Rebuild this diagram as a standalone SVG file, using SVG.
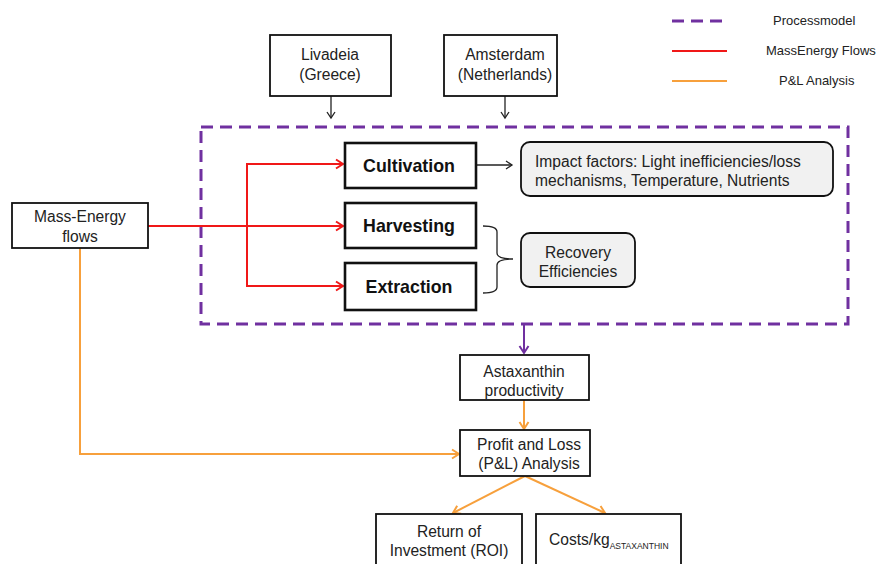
<svg xmlns="http://www.w3.org/2000/svg" width="877" height="564" viewBox="0 0 877 564">
<style>
text{font-family:"Liberation Sans",Arial,sans-serif;fill:#222;}
.t{font-size:15.6px;text-anchor:middle;}
.l{font-size:15.6px;}
.b{font-size:17.8px;font-weight:bold;text-anchor:middle;fill:#111;}
.lg{font-size:13px;}
.box{fill:#fff;stroke:#111;stroke-width:1.8;}
.bbox{fill:#fff;stroke:#111;stroke-width:2.6;}
.rbox{fill:#f1f1f1;stroke:#111;stroke-width:1.8;}
.blk{stroke:#222;stroke-width:1.3;fill:none;}
.red{stroke:#f01818;stroke-width:2;fill:none;}
.org{stroke:#f7a03c;stroke-width:2;fill:none;}
.pur{stroke:#7030a0;stroke-width:2;fill:none;}
.dash{stroke:#7030a0;stroke-width:3;fill:none;stroke-dasharray:12 7;}
</style>
<defs>
<marker id="ak" markerWidth="10" markerHeight="10" refX="8" refY="5" orient="auto" markerUnits="userSpaceOnUse"><path d="M2,1 L8,5 L2,9" fill="none" stroke="#222" stroke-width="1.3"/></marker>
<marker id="ar" markerWidth="12" markerHeight="12" refX="10" refY="6" orient="auto" markerUnits="userSpaceOnUse"><path d="M3,1.5 L10,6 L3,10.5" fill="none" stroke="#f01818" stroke-width="2"/></marker>
<marker id="ao" markerWidth="12" markerHeight="12" refX="10" refY="6" orient="auto" markerUnits="userSpaceOnUse"><path d="M3,1.5 L10,6 L3,10.5" fill="none" stroke="#f7a03c" stroke-width="2"/></marker>
<marker id="ap" markerWidth="12" markerHeight="12" refX="10" refY="6" orient="auto" markerUnits="userSpaceOnUse"><path d="M3,1.5 L10,6 L3,10.5" fill="none" stroke="#7030a0" stroke-width="2"/></marker>
</defs>
<rect width="877" height="564" fill="#fff"/>

<g id="legend">
<line x1="672" y1="21" x2="727" y2="21" class="dash"/>
<text class="lg" x="773" y="25">Processmodel</text>
<line x1="672" y1="51" x2="727" y2="51" class="red"/>
<text class="lg" x="766" y="55">MassEnergy Flows</text>
<line x1="672" y1="81" x2="727" y2="81" class="org"/>
<text class="lg" x="779" y="85">P&amp;L Analysis</text>
</g>

<g id="processmodel">
<rect x="201" y="127" width="647" height="197" class="dash"/>
</g>

<g id="connectors">
<line x1="331" y1="96" x2="331" y2="118" class="blk" marker-end="url(#ak)"/>
<line x1="505" y1="96" x2="505" y2="118" class="blk" marker-end="url(#ak)"/>
<line x1="148" y1="226" x2="343" y2="226" class="red" marker-end="url(#ar)"/>
<polyline points="247,226 247,164 343,164" class="red" marker-end="url(#ar)"/>
<polyline points="247,226 247,286 343,286" class="red" marker-end="url(#ar)"/>
<line x1="476" y1="165" x2="512" y2="165" class="blk" marker-end="url(#ak)"/>
<path d="M483,226 Q497,226 497,232 L497,253 Q497,259 513,259 Q497,259 497,265 L497,287 Q497,293 483,293" class="blk"/>
<line x1="524" y1="324" x2="524" y2="353" class="pur" marker-end="url(#ap)"/>
<line x1="524" y1="400" x2="524" y2="429" class="org" marker-end="url(#ao)"/>
<polyline points="80,248 80,454 459,454" class="org" marker-end="url(#ao)"/>
<line x1="525" y1="476" x2="453" y2="513" class="org" marker-end="url(#ao)"/>
<line x1="525" y1="476" x2="605" y2="513" class="org" marker-end="url(#ao)"/>
</g>

<g id="livadeia">
<rect x="270" y="35" width="121" height="61" class="box"/>
<text class="t" x="330" y="60">Livadeia</text>
<text class="t" x="330" y="80">(Greece)</text>
</g>
<g id="amsterdam">
<rect x="444" y="35" width="113" height="61" class="box"/>
<text class="t" x="505" y="60">Amsterdam</text>
<text class="t" x="505" y="80">(Netherlands)</text>
</g>
<g id="massenergy">
<rect x="12" y="203" width="136" height="45" class="box"/>
<text class="t" x="80" y="222">Mass-Energy</text>
<text class="t" x="80" y="242">flows</text>
</g>
<g id="cultivation">
<rect x="345" y="143" width="131" height="45" class="bbox"/>
<text class="b" x="409" y="172">Cultivation</text>
</g>
<g id="harvesting">
<rect x="345" y="203" width="131" height="45" class="bbox"/>
<text class="b" x="409" y="232">Harvesting</text>
</g>
<g id="extraction">
<rect x="345" y="263" width="131" height="47" class="bbox"/>
<text class="b" x="409" y="293">Extraction</text>
</g>
<g id="impact">
<rect x="521" y="142" width="312" height="54" rx="9" class="rbox"/>
<text class="l" x="535" y="167">Impact factors: Light inefficiencies/loss</text>
<text class="l" x="535" y="186">mechanisms, Temperature, Nutrients</text>
</g>
<g id="recovery">
<rect x="521" y="233" width="114" height="54" rx="9" class="rbox"/>
<text class="t" x="578" y="258">Recovery</text>
<text class="t" x="578" y="277">Efficiencies</text>
</g>
<g id="astaxanthin">
<rect x="460" y="355" width="129" height="45" class="box"/>
<text class="t" x="524" y="377">Astaxanthin</text>
<text class="t" x="524" y="396">productivity</text>
</g>
<g id="pl">
<rect x="460" y="430" width="130" height="46" class="box"/>
<text class="t" x="529" y="450">Profit and Loss</text>
<text class="t" x="529" y="469">(P&amp;L) Analysis</text>
</g>
<g id="roi">
<rect x="376" y="514" width="146" height="60" class="box"/>
<text class="t" x="449" y="537">Return of</text>
<text class="t" x="449" y="556">Investment (ROI)</text>
</g>
<g id="costs">
<rect x="536" y="514" width="145" height="60" class="box"/>
<text class="l" x="549" y="545">Costs/kg<tspan dy="4" style="font-size:8.5px">ASTAXANTHIN</tspan></text>
</g>
</svg>
